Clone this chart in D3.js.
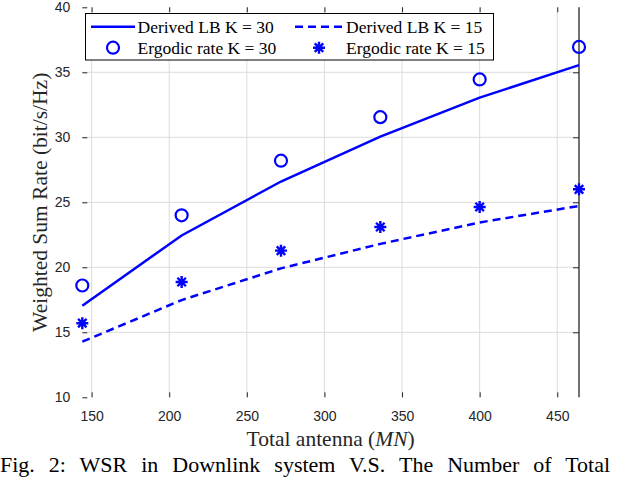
<html>
  <head>
    <script src="https://cdn.jsdelivr.net/npm/d3@7/dist/d3.min.js"></script>
    <style>
      body { margin: 0; background: #fff; overflow: hidden; }
      svg { display: block; }
    </style>
  </head>

  <body>
    <div id="chart"></div>
  </body>

  <script>
    // data
    const antennas = [144, 208, 272, 336, 400, 464]
    const lbK30 = [17.05, 22.45, 26.6, 30.05, 33.05, 35.55]
    const lbK15 = [14.28, 17.48, 19.92, 21.8, 23.45, 24.72]
    const ergK30 = [18.6, 24.0, 28.2, 31.55, 34.45, 36.95]
    const ergK15 = [15.7, 18.87, 21.28, 23.1, 24.64, 26.0]
    const xTicks = [150, 200, 250, 300, 350, 400, 450]
    const yTicks = [10, 15, 20, 25, 30, 35, 40]
    const legendLabels = ['Derived LB K = 30', 'Derived LB K = 15', 'Ergodic rate K = 30', 'Ergodic rate K = 15']

    const W = 620, H = 478
    const plotL = 82.3, plotR = 579, plotT = 7.3, plotB = 397.3
    const blue = '#0000ff'
    const serif = '"Liberation Serif", "Times New Roman", serif'
    const sans = '"Liberation Sans", Arial, sans-serif'

    const svg = d3.select('#chart').append('svg')
      .attr('width', W).attr('height', H)

    const x = d3.scaleLinear().domain([144, 464]).range([plotL, plotR])
    const y = d3.scaleLinear().domain([10, 40]).range([plotB, plotT])

    // grid
    const grid = svg.append('g').attr('stroke', '#dcdcdc').attr('stroke-width', 1)
    grid.selectAll('.gx').data(xTicks).enter().append('line')
      .attr('x1', d => x(d)).attr('x2', d => x(d))
      .attr('y1', plotT).attr('y2', plotB)
    grid.selectAll('.gy').data(yTicks.slice(1, -1)).enter().append('line')
      .attr('x1', plotL).attr('x2', plotR)
      .attr('y1', d => y(d)).attr('y2', d => y(d))

    // axes (ticks pointing inward, MATLAB style)
    const axisColor = '#262626'
    function styleAxis (g, showLabels) {
      g.select('.domain').remove()
      g.selectAll('.tick line').attr('stroke', axisColor).attr('stroke-width', 1)
      g.selectAll('.tick text')
        .attr('fill', axisColor)
        .style('font-family', sans)
        .style('font-size', '14px')
      if (!showLabels) g.selectAll('.tick text').remove()
    }

    svg.append('g')
      .attr('transform', 'translate(0,' + plotB + ')')
      .call(d3.axisBottom(x).tickValues(xTicks).tickSizeInner(-5).tickSizeOuter(0).tickPadding(14))
      .call(g => styleAxis(g, true))

    svg.append('g')
      .attr('transform', 'translate(0,' + plotT + ')')
      .call(d3.axisTop(x).tickValues(xTicks).tickSizeInner(-5).tickSizeOuter(0))
      .call(g => styleAxis(g, false))

    svg.append('g')
      .attr('transform', 'translate(' + plotL + ',0)')
      .call(d3.axisLeft(y).tickValues(yTicks).tickSizeInner(-5).tickSizeOuter(0).tickPadding(12))
      .call(g => styleAxis(g, true))

    svg.append('g')
      .attr('transform', 'translate(' + plotR + ',0)')
      .call(d3.axisRight(y).tickValues(yTicks.slice(1, -1)).tickSizeInner(-6).tickSizeOuter(0))
      .call(g => styleAxis(g, false))

    // right border line
    svg.append('line')
      .attr('x1', plotR).attr('x2', plotR).attr('y1', plotT).attr('y2', plotB)
      .attr('stroke', axisColor).attr('stroke-width', 1.3)

    // lines
    const line = d3.line().x((d, i) => x(antennas[i])).y(d => y(d))
    svg.append('path').datum(lbK30)
      .attr('d', line).attr('fill', 'none')
      .attr('stroke', blue).attr('stroke-width', 2.5)
    svg.append('path').datum(lbK15)
      .attr('d', line).attr('fill', 'none')
      .attr('stroke', blue).attr('stroke-width', 2.5)
      .attr('stroke-dasharray', '8,5')

    // asterisk marker path
    function starPath (r) {
      let p = ''
      for (let k = 0; k < 4; k++) {
        const a = k * Math.PI / 4
        const dx = r * Math.cos(a), dy = r * Math.sin(a)
        p += 'M' + (-dx) + ',' + (-dy) + 'L' + dx + ',' + dy
      }
      return p
    }

    svg.append('g').selectAll('circle').data(ergK30).enter().append('circle')
      .attr('cx', (d, i) => x(antennas[i])).attr('cy', d => y(d))
      .attr('r', 6).attr('fill', 'none')
      .attr('stroke', blue).attr('stroke-width', 2.2)

    svg.append('g').selectAll('path').data(ergK15).enter().append('path')
      .attr('transform', (d, i) => 'translate(' + x(antennas[i]) + ',' + y(d) + ')')
      .attr('d', starPath(6)).attr('fill', 'none')
      .attr('stroke', blue).attr('stroke-width', 2.4)

    // legend
    const lg = svg.append('g')
    lg.append('rect')
      .attr('x', 85.5).attr('y', 13.5).attr('width', 408).attr('height', 46.5)
      .attr('fill', '#fff').attr('stroke', '#000').attr('stroke-width', 1)

    const rows = [26.7, 47.7]
    const cols = [{ s: 91, e: 135, t: 137.5 }, { s: 295, e: 343, t: 346 }]
    lg.append('line').attr('x1', cols[0].s).attr('x2', cols[0].e)
      .attr('y1', rows[0]).attr('y2', rows[0])
      .attr('stroke', blue).attr('stroke-width', 2.5)
    lg.append('line').attr('x1', cols[1].s).attr('x2', cols[1].e)
      .attr('y1', rows[0]).attr('y2', rows[0])
      .attr('stroke', blue).attr('stroke-width', 2.5).attr('stroke-dasharray', '8,5')
    lg.append('circle').attr('cx', (cols[0].s + cols[0].e) / 2).attr('cy', rows[1])
      .attr('r', 6).attr('fill', 'none').attr('stroke', blue).attr('stroke-width', 2.2)
    lg.append('path')
      .attr('transform', 'translate(' + (cols[1].s + cols[1].e) / 2 + ',' + rows[1] + ')')
      .attr('d', starPath(6)).attr('fill', 'none').attr('stroke', blue).attr('stroke-width', 2.4)

    legendLabels.forEach((t, i) => {
      lg.append('text')
        .attr('x', cols[i % 2].t).attr('y', rows[Math.floor(i / 2)])
        .attr('dy', '0.35em')
        .style('font-family', serif).style('font-size', '17.5px')
        .attr('fill', '#000')
        .text(t)
    })

    // axis titles
    svg.append('text')
      .attr('transform', 'translate(47,' + (plotT + plotB) / 2 + ') rotate(-90)')
      .attr('text-anchor', 'middle')
      .style('font-family', serif).style('font-size', '21.5px')
      .attr('fill', '#262626')
      .text('Weighted Sum Rate (bit/s/Hz)')

    const xt = svg.append('text')
      .attr('x', (plotL + plotR) / 2).attr('y', 446)
      .attr('text-anchor', 'middle')
      .style('font-family', serif).style('font-size', '21.5px')
      .attr('fill', '#262626')
    xt.append('tspan').text('Total antenna (')
    xt.append('tspan').style('font-style', 'italic').text('MN')
    xt.append('tspan').text(')')

    // figure caption under the plot
    svg.append('text')
      .attr('x', 0).attr('y', 472)
      .style('font-family', serif).style('font-size', '22px')
      .style('word-spacing', '8.5px')
      .attr('fill', '#000')
      .text('Fig. 2: WSR in Downlink system V.S. The Number of Total')
  </script>
</html>
